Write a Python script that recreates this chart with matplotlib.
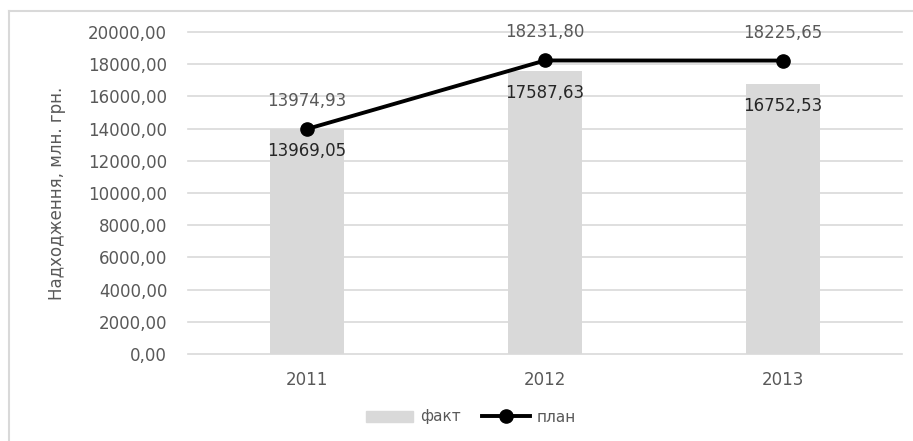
import matplotlib
matplotlib.use("Agg")
import matplotlib.pyplot as plt
from matplotlib.lines import Line2D

# Data
years = ["2011", "2012", "2013"]
fact = [13969.05, 17587.63, 16752.53]
plan = [13974.93, 18231.80, 18225.65]
y_ticks = [0, 2000, 4000, 6000, 8000, 10000, 12000, 14000, 16000, 18000, 20000]


def fmt(v):
    return f"{v:.2f}".replace(".", ",")


plt.rcParams["font.family"] = ["DejaVu Sans"]

fig = plt.figure(figsize=(9.13, 4.41), dpi=100)
ax = fig.add_axes([188 / 913, 87 / 441, 714 / 913, 322 / 441])

grid_col = "#d9d9d9"
text_col = "#595959"

x = list(range(len(years)))

# grid first, behind everything
for t in y_ticks:
    ax.axhline(t, color=grid_col, linewidth=1.2, zorder=0, clip_on=False)

ax.bar(x, fact, width=0.315, color="#d9d9d9", zorder=1, label="факт")
ax.plot(x, plan, color="black", linewidth=2.8, marker="o", markersize=9.5,
        zorder=3, label="план")

for xi, v in zip(x, plan):
    ax.annotate(fmt(v), (xi, v), textcoords="offset pixels", xytext=(0, 28),
                ha="center", va="center", fontsize=12, color=text_col)
for xi, v in zip(x, fact):
    ax.annotate(fmt(v), (xi, v), textcoords="offset pixels", xytext=(0, -22),
                ha="center", va="center", fontsize=12, color="#262626")

ax.set_xlim(-0.5, len(years) - 0.5)
ax.set_ylim(0, 20000)
ax.set_xticks(x)
ax.set_xticklabels(years)
ax.set_yticks(y_ticks)
ax.set_yticklabels([fmt(t) for t in y_ticks])
ax.tick_params(axis="both", length=0, labelsize=12, colors=text_col)
ax.tick_params(axis="y", pad=15)
ax.tick_params(axis="x", pad=12)
for s in ax.spines.values():
    s.set_visible(False)

ax.set_ylabel("Надходження, млн. грн.", fontsize=12, color=text_col)
ax.yaxis.set_label_coords(-0.171, 0.5)

handles = [
    plt.Rectangle((0, 0), 1, 1, color="#d9d9d9"),
    Line2D([0], [0], color="black", linewidth=2.8, marker="o", markersize=9.5),
]
leg = fig.legend(handles, ["факт", "план"], loc="center", ncol=2,
                 bbox_to_anchor=(471 / 913, 24 / 441), frameon=False,
                 fontsize=11, handlelength=3.1, handletextpad=0.45,
                 columnspacing=1.4)
for t in leg.get_texts():
    t.set_color(text_col)

# chart area border (top and left edges visible)
fig.add_artist(Line2D([9 / 913, 1], [1 - 11 / 441, 1 - 11 / 441],
                      color=grid_col, linewidth=1.5))
fig.add_artist(Line2D([9 / 913, 9 / 913], [0, 1 - 11 / 441],
                      color=grid_col, linewidth=1.5))

fig.savefig("out.png", dpi=100)
